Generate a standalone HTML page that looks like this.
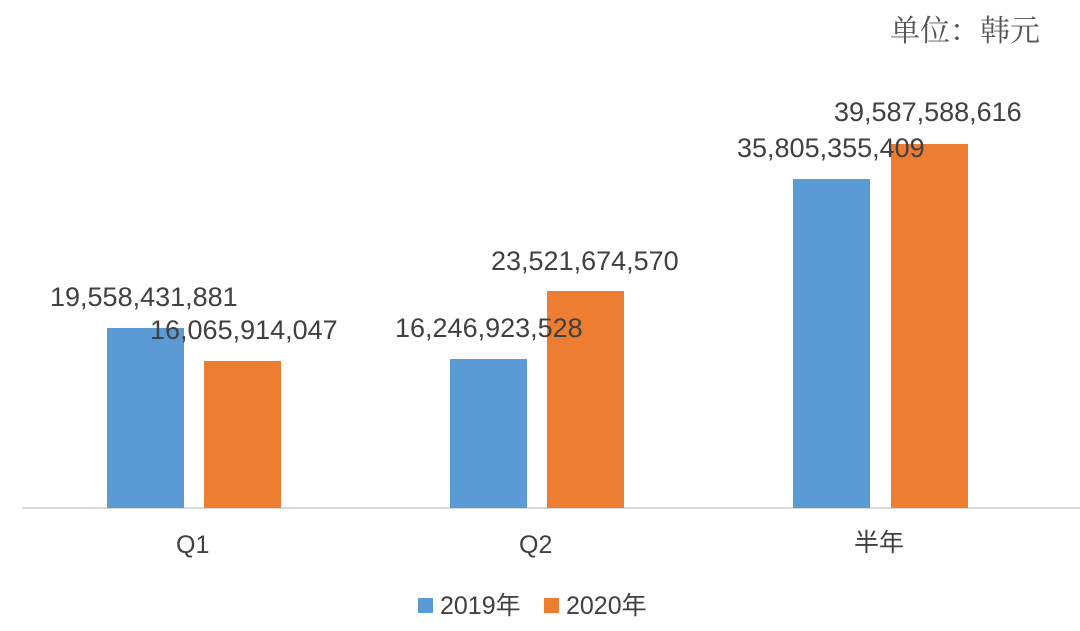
<!DOCTYPE html>
<html><head><meta charset="utf-8"><style>
body{margin:0;width:1080px;height:631px;background:#fff;position:relative;overflow:hidden;font-family:"Liberation Sans","Noto Sans CJK SC",sans-serif;color:#404040}
.b{position:absolute}
.t{position:absolute;font-size:27px;white-space:nowrap;line-height:1}
.bl{background:#5b9bd5}.or{background:#ed7d31}
</style></head><body>
<div class="t" style="left:890px;top:13px;font-size:30px;color:#555;font-family:'Noto Serif CJK SC','Noto Sans CJK SC',serif">单位：韩元</div>
<div class="b" style="left:22px;top:507px;width:1058px;height:2px;background:#d9d9d9"></div>
<div class="b bl" style="left:107px;top:328px;width:77px;height:180px"></div>
<div class="b or" style="left:204px;top:361px;width:77px;height:147px"></div>
<div class="b bl" style="left:450px;top:359px;width:77px;height:149px"></div>
<div class="b or" style="left:547px;top:291px;width:77px;height:217px"></div>
<div class="b bl" style="left:793px;top:179px;width:77px;height:329px"></div>
<div class="b or" style="left:891px;top:144px;width:77px;height:364px"></div>
<div class="t" style="left:50px;top:284px">19,558,431,881</div>
<div class="t" style="left:150px;top:317px">16,065,914,047</div>
<div class="t" style="left:395px;top:315px">16,246,923,528</div>
<div class="t" style="left:491px;top:248px">23,521,674,570</div>
<div class="t" style="left:737px;top:135px">35,805,355,409</div>
<div class="t" style="left:834px;top:99px">39,587,588,616</div>
<div class="t" style="left:176px;top:533px;font-size:25px">Q1</div>
<div class="t" style="left:519px;top:533px;font-size:25px">Q2</div>
<div class="t" style="left:854px;top:531px;font-size:25px">半年</div>
<div class="b bl" style="left:418px;top:598px;width:15px;height:15px"></div>
<div class="t" style="left:440px;top:594px;font-size:25px">2019年</div>
<div class="b or" style="left:544px;top:598px;width:15px;height:15px"></div>
<div class="t" style="left:566px;top:594px;font-size:25px">2020年</div>
</body></html>
